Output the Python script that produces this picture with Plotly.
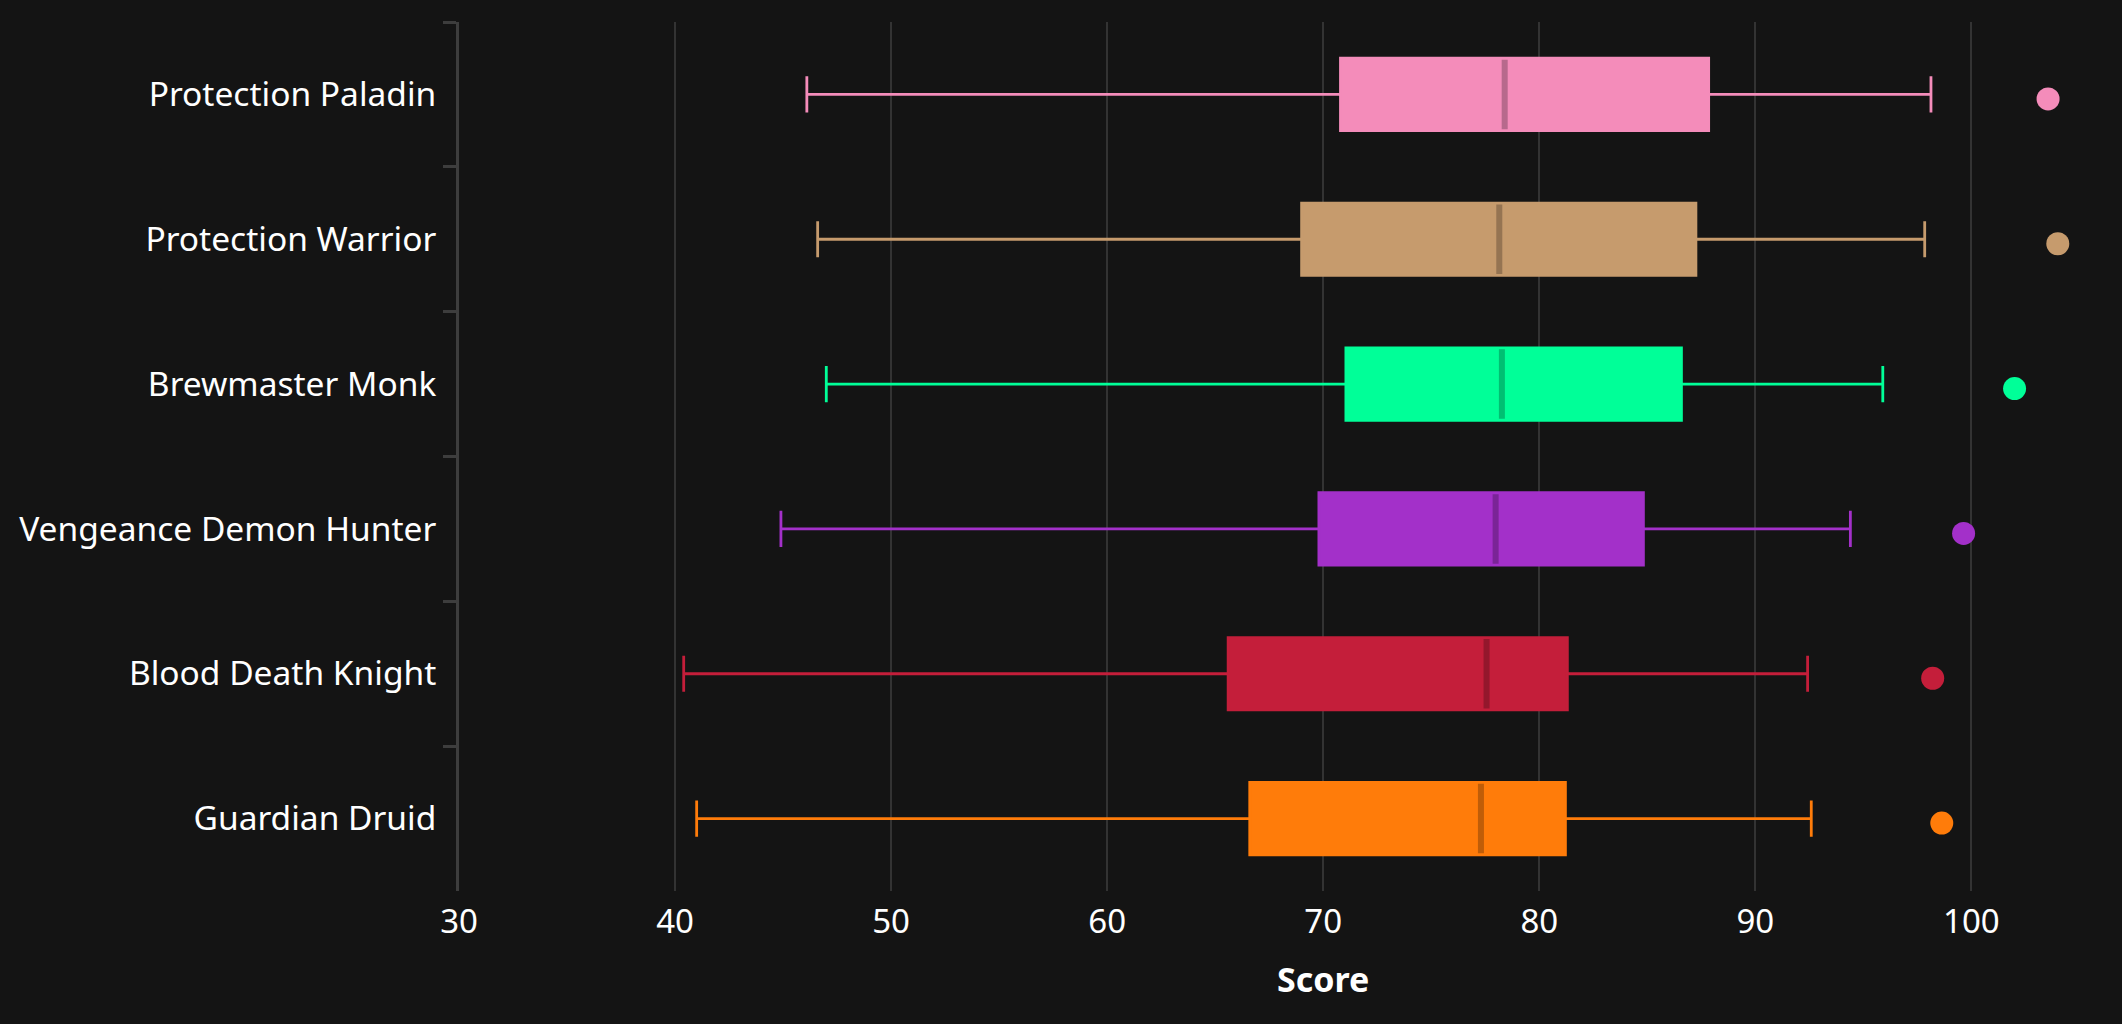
import plotly.graph_objects as go

categories = ["Protection Paladin", "Protection Warrior", "Brewmaster Monk",
              "Vengeance Demon Hunter", "Blood Death Knight", "Guardian Druid"]
lower_fence = [46.1, 46.6, 47.0, 44.9, 40.4, 41.0]
q1_vals = [70.8, 69.0, 71.05, 69.8, 65.6, 66.6]
median_vals = [78.4, 78.15, 78.27, 77.98, 77.56, 77.3]
q3_vals = [87.84, 87.25, 86.58, 84.82, 81.3, 81.21]
upper_fence = [98.13, 97.84, 95.9, 94.4, 92.42, 92.59]
outliers = [103.55, 104.0, 102.0, 99.64, 98.21, 98.63]
colors = ["#F48CBA", "#C69B6D", "#00FF98", "#A330C9", "#C41E3A", "#FF7C0A"]
median_colors = ["#B7698C", "#957452", "#00BF72", "#7A2497", "#93172C", "#BF5D08"]
x_ticks = [30, 40, 50, 60, 70, 80, 90, 100]

BG = "#141414"
FONT = "Noto Sans"

fig = go.Figure()
for i, cat in enumerate(categories):
    fig.add_trace(go.Box(
        y=[cat], q1=[q1_vals[i]], median=[median_vals[i]], q3=[q3_vals[i]],
        lowerfence=[lower_fence[i]], upperfence=[upper_fence[i]],
        orientation="h", fillcolor=colors[i],
        line=dict(color=colors[i], width=2.8),
        whiskerwidth=0.5, width=0.5, boxpoints=False, showlegend=False,
        hoverinfo="skip",
    ))
    # darker median line
    fig.add_trace(go.Box(
        y=[cat], q1=[median_vals[i]], median=[median_vals[i]], q3=[median_vals[i]],
        lowerfence=[median_vals[i]], upperfence=[median_vals[i]],
        orientation="h", fillcolor="rgba(0,0,0,0)",
        line=dict(color=median_colors[i], width=6),
        whiskerwidth=0, width=0.48, boxpoints=False, showlegend=False,
        hoverinfo="skip",
    ))
    fig.add_trace(go.Scatter(
        x=[outliers[i]], y=[cat], mode="markers", yaxis="y2",
        marker=dict(size=23, color=colors[i]), showlegend=False,
        hoverinfo="skip",
    ))

shift = 4.5 / 144.8
fig.update_layout(
    width=2122, height=1024,
    paper_bgcolor=BG, plot_bgcolor=BG,
    margin=dict(l=459, r=21, t=22, b=133),
    font=dict(family=FONT, color="white", size=33),
    boxmode="overlay",
    showlegend=False,
    xaxis=dict(
        range=[30, 106], tickvals=x_ticks, showgrid=True,
        gridcolor="#333333", gridwidth=2, zeroline=False, showline=False,
        ticks="", ticklabelstandoff=8,
        tickfont=dict(size=33, color="white", family=FONT),
    ),
    yaxis=dict(
        type="category", categoryarray=categories, categoryorder="array",
        range=[5.5, -0.5], showgrid=False, zeroline=False,
        showline=True, linecolor="#3d3d3d", linewidth=3,
        ticks="outside", tickson="boundaries", ticklen=13, tickwidth=3,
        tickcolor="#3d3d3d", ticklabelstandoff=13,
        tickfont=dict(size=33.5, color="white", family=FONT),
    ),
    yaxis2=dict(
        type="category", categoryarray=categories, categoryorder="array",
        overlaying="y", range=[5.5 - shift, -0.5 - shift], visible=False,
    ),
    annotations=[dict(
        text="<b>Score</b>", x=70, xref="x", y=0, yref="paper",
        showarrow=False, font=dict(size=34, color="white", family=FONT),
        yanchor="middle", xanchor="center",
    )],
)
# place the title in pixel terms: convert y pixel 979 to paper coords
plot_h = 1024 - 22 - 133
fig.layout.annotations[0].y = (1024 - 133 - 979) / plot_h

fig.write_html(
    "out.html",
    config={"displayModeBar": False},
    post_script="document.body.style.margin='0';document.body.style.overflow='hidden';document.body.style.background='#141414';",
)
